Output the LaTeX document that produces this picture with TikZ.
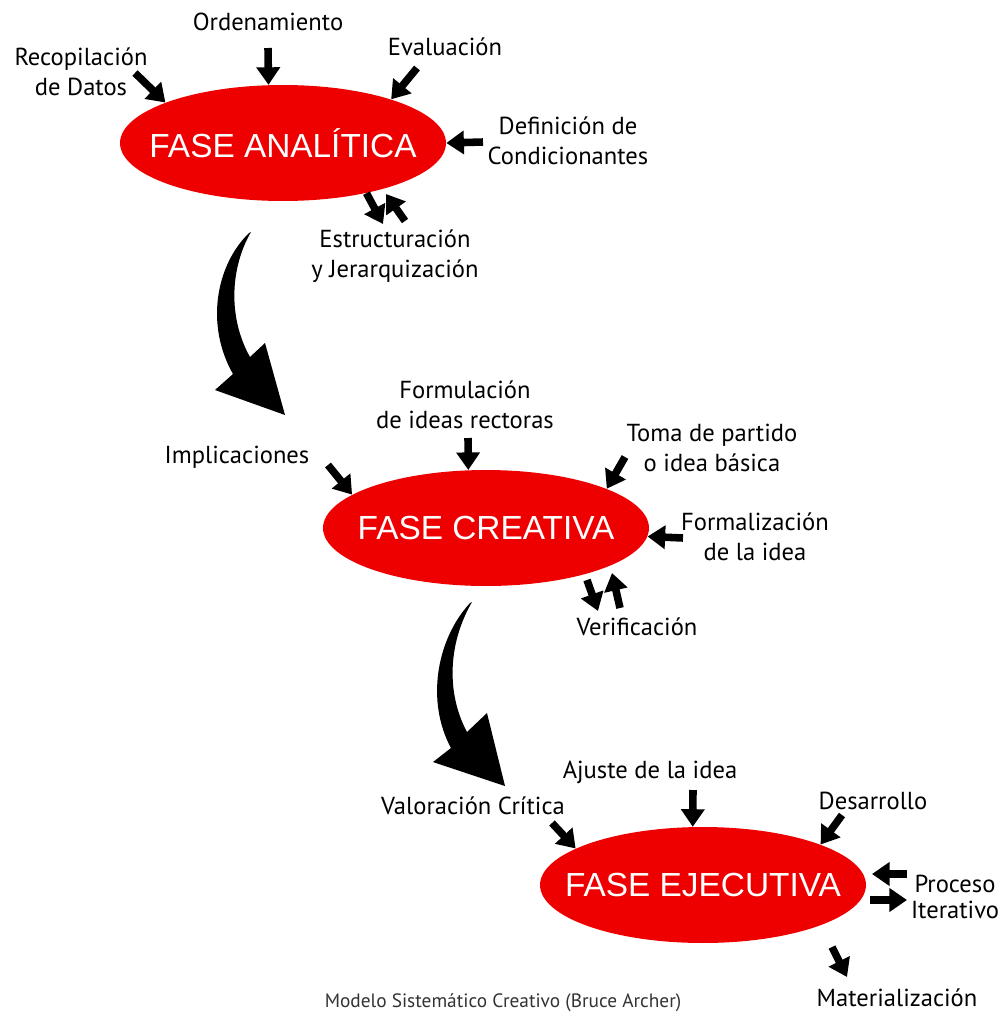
\documentclass[tikz,border=0pt]{standalone}
\usepackage{fontspec}
\usetikzlibrary{arrows.meta,shapes.geometric}

\newfontfamily\labelfont{PT Sans}
\newfontfamily\phasefont{Liberation Sans}
\definecolor{faserojo}{RGB}{238,0,0}
\newcommand{\fasetexto}[1]{\makebox[0pt]{#1}}

\begin{document}
\begin{tikzpicture}[x=0.02cm, y=-0.02cm,
  fase/.style={ellipse, fill=faserojo, minimum width=6.52cm, minimum height=2.32cm,
    inner sep=0pt, text=white, font=\phasefont\fontsize{19}{22}\selectfont},
  etiqueta/.style={align=center, font=\labelfont\fontsize{14}{17}\selectfont},
  flecha/.style={line width=4.3pt, -{Triangle[length=10pt, width=13pt]}},
  curva/.style={fill=black},
]
  \useasboundingbox (0,0) rectangle (1001,1018);

  % フェーズ(楕円)
  \node[fase] (ana) at (283,143) {\fasetexto{FASE ANALÍTICA}};
  \node[fase] (cre) at (486,528) {\fasetexto{FASE CREATIVA}};
  \node[fase] (eje) at (703,885) {\fasetexto{FASE EJECUTIVA}};

  % ラベル
  \node[etiqueta] (recop) at (81,72) {Recopilación\\de Datos};
  \node[etiqueta] (orden) at (268,22) {Ordenamiento};
  \node[etiqueta] (evalu) at (445,47) {Evaluación};
  \node[etiqueta] (defin) at (568,141) {Definición de\\Condicionantes};
  \node[etiqueta] (estru) at (395,256) {Estructuración\\y Jerarquización};

  \node[etiqueta] (formu) at (465,405) {Formulación\\de ideas rectoras};
  \node[etiqueta] (impli) at (237,457) {Implicaciones};
  \node[etiqueta] (toma) at (712,448) {Toma de partido\\o idea básica};
  \node[etiqueta] (forma) at (755,537) {Formalización\\de la idea};
  \node[etiqueta] (verif) at (637,627) {Verificación};

  \node[etiqueta] (ajust) at (650,772) {Ajuste de la idea};
  \node[etiqueta] (valor) at (473,806) {Valoración Crítica};
  \node[etiqueta] (desar) at (873,801) {Desarrollo};
  \node[etiqueta, font=\labelfont\fontsize{14}{14.5}\selectfont] (proce) at (955,897) {Proceso\\Iterativo};
  \node[etiqueta] (mater) at (897,998) {Materialización};

  \node[font=\labelfont\fontsize{11}{13}\selectfont, text=black!80] (pie) at (503,1003)
    {Modelo Sistemático Creativo (Bruce Archer)};

  % 矢印の端点
  \coordinate (recop-s) at (135,73);
  \coordinate (orden-s) at (268,48);
  \coordinate (evalu-s) at (417,68);
  \coordinate (defin-s) at (483,142);
  \coordinate (estru-a) at (383,224);
  \coordinate (estru-b) at (405,221);
  \coordinate (estru-c) at (386,194);

  \coordinate (impli-s) at (328,465);
  \coordinate (formu-s) at (468,438);
  \coordinate (toma-s) at (625,457);
  \coordinate (forma-s) at (683,538);
  \coordinate (verif-a) at (587,580);
  \coordinate (verif-b) at (598,611);
  \coordinate (verif-c) at (620,608);
  \coordinate (verif-d) at (612,573);

  \coordinate (valor-s) at (552,823);
  \coordinate (ajust-s) at (693,790);
  \coordinate (desar-s) at (842,815);
  \coordinate (proce-a) at (907,874);
  \coordinate (proce-b) at (872,874);
  \coordinate (proce-c) at (870,900);
  \coordinate (proce-d) at (907,900);
  \coordinate (mater-a) at (832,947);
  \coordinate (mater-b) at (847,977);

  % 矢印(分析)
  \draw[flecha] (recop-s) -- (ana.161);
  \draw[flecha] (orden-s) -- (ana.104);
  \draw[flecha] (evalu-s) -- (ana.22);
  \draw[flecha] (defin-s) -- (ana.0);
  \draw[flecha] (ana.-31) -- (estru-a);
  \draw[flecha] (estru-b) -- (estru-c);

  % 矢印(創造)
  \draw[flecha] (impli-s) -- (cre.166);
  \draw[flecha] (formu-s) -- (cre.107);
  \draw[flecha] (toma-s) -- (cre.18);
  \draw[flecha] (forma-s) -- (cre.-3);
  \draw[flecha] (verif-a) -- (verif-b);
  \draw[flecha] (verif-c) -- (verif-d);

  % 矢印(実行)
  \draw[flecha] (valor-s) -- (eje.164);
  \draw[flecha] (ajust-s) -- (eje.100);
  \draw[flecha] (desar-s) -- (eje.19);
  \draw[flecha] (proce-a) -- (proce-b);
  \draw[flecha] (proce-c) -- (proce-d);
  \draw[flecha] (mater-a) -- (mater-b);

  % 大きな曲線矢印
  \fill[curva] (249,233) .. controls (216,265) and (205,325) .. (233,374)
    -- (215,390) -- (285,415) -- (265,343) -- (250,357)
    .. controls (228,318) and (230,268) .. (251,232) -- cycle;
  \fill[curva] (470,603) .. controls (436,640) and (426,702) .. (451,748)
    -- (433,762) -- (505,786) -- (487,713) -- (467,732)
    .. controls (447,695) and (447,645) .. (472,602) -- cycle;
\end{tikzpicture}
\end{document}
